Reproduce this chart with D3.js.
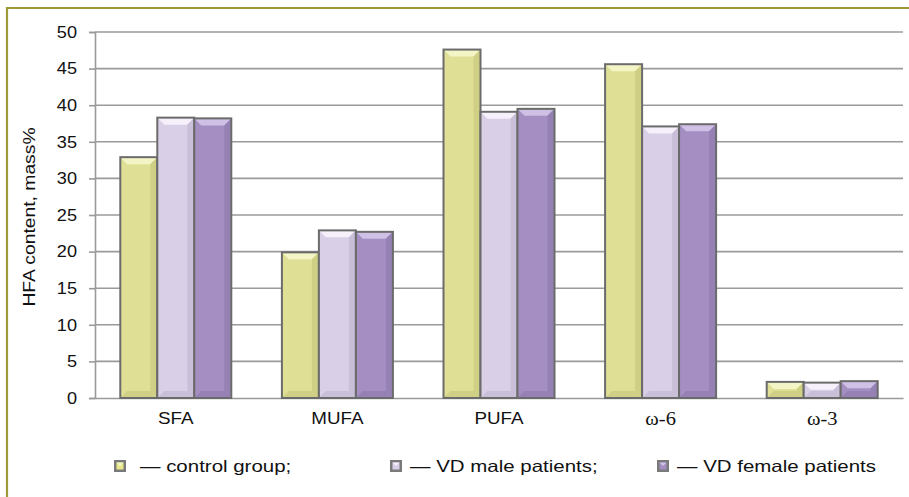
<!DOCTYPE html>
<html><head><meta charset="utf-8">
<script src="https://cdn.jsdelivr.net/npm/d3@7"></script>
<style>body{margin:0;background:#fff}svg{display:block}</style>
</head><body><svg id="c" width="909" height="497"></svg>
<script>
const categories = ["SFA", "MUFA", "PUFA", "ω-6", "ω-3"];
const seriesNames = ["— control group;", "— VD male patients;", "— VD female patients"];
const control = [32.9, 19.9, 47.6, 45.6, 2.2];
const vdMale = [38.3, 22.9, 39.1, 37.1, 2.1];
const vdFemale = [38.2, 22.7, 39.5, 37.4, 2.3];
const yTicks = [0, 5, 10, 15, 20, 25, 30, 35, 40, 45, 50];
const colors = ["#dfe096", "#d9cfe6", "#a58fc2"];
const lightColors = ["#f4f5c6", "#f6f0fb", "#cfc0e6"];
const darkColors = ["#cfd086", "#c9bfd8", "#9581b3"];
const series = [control, vdMale, vdFemale];

const svg = d3.select("#c");
const font = "'Liberation Sans', Arial, sans-serif";
const serif = "'Liberation Serif', 'Times New Roman', serif";
function stretch(sel, k) {
  sel.each(function() {
    const w = this.getComputedTextLength();
    d3.select(this).attr("textLength", w * k).attr("lengthAdjust", "spacingAndGlyphs");
  });
}
// frame
svg.append("path").attr("d", "M7,497 L7,8 L909,8").attr("fill", "none")
  .attr("stroke", "#9e9a3a").attr("stroke-width", 2.2);

const pLeft = 95, pRight = 903, pTop = 32, pBottom = 398;
const x = d3.scaleBand().domain(categories).range([pLeft, pRight]);
const xs = d3.scaleBand().domain([0, 1, 2]).range([0, 111]);
const y = d3.scaleLinear().domain([0, 50]).range([pBottom, pTop]);

// gridlines
svg.append("g").selectAll("line").data(yTicks.filter(d => d > 0)).join("line")
  .attr("x1", pLeft).attr("x2", pRight).attr("y1", d => y(d)).attr("y2", d => y(d))
  .attr("stroke", "#9a9a9a").attr("stroke-width", 1.6);

// y axis
const ya = d3.axisLeft(y).tickValues(yTicks).tickSize(6).tickPadding(12);
const yg = svg.append("g").attr("transform", `translate(${pLeft},0)`).call(ya);
yg.select(".domain").attr("stroke", "#9a9a9a").attr("stroke-width", 1.6);
yg.selectAll(".tick line").attr("stroke", "#9a9a9a").attr("stroke-width", 1.6);
yg.selectAll(".tick text").attr("font-family", font).attr("font-size", 16.5).attr("fill", "#111");
stretch(yg.selectAll(".tick text"), 1.1);

// x axis
const xa = d3.axisBottom(x).tickSize(0).tickPadding(14);
const xg = svg.append("g").attr("transform", `translate(0,${pBottom})`).call(xa);
xg.select(".domain").attr("stroke", "#9a9a9a").attr("stroke-width", 1.6);
xg.selectAll(".tick text").attr("font-family", font).attr("font-size", 16.5).attr("fill", "#111")
  .each(function(d) {
    const t = d3.select(this);
    if (d.startsWith("ω")) {
      t.attr("font-family", serif).attr("font-size", 18);
    }
  });
stretch(xg.selectAll(".tick text"), 1.14);

// y label
const yl = svg.append("text").attr("transform", `translate(34.5,${(pTop + pBottom) / 2 + 2}) rotate(-90)`)
  .attr("text-anchor", "middle").attr("font-family", font).attr("font-size", 16.5).attr("fill", "#111")
  .text("HFA content, mass%");
stretch(yl, 1.17);

function bevelBar(g, bx, by, bw, bh, si) {
  const b = Math.min(7, bh / 2);
  g.append("rect").attr("x", bx).attr("y", by).attr("width", bw).attr("height", bh).attr("fill", colors[si]);
  g.append("path").attr("d", `M${bx},${by}L${bx + bw},${by}L${bx + bw - b},${by + b}L${bx + b},${by + b}Z`).attr("fill", lightColors[si]);
  g.append("path").attr("d", `M${bx + bw},${by}L${bx + bw - b},${by + b}L${bx + bw - b},${by + bh - b}L${bx + bw},${by + bh}Z`).attr("fill", darkColors[si]);
  g.append("path").attr("d", `M${bx},${by + bh}L${bx + b},${by + bh - b}L${bx + bw - b},${by + bh - b}L${bx + bw},${by + bh}Z`).attr("fill", darkColors[si]);
  g.append("rect").attr("x", bx).attr("y", by).attr("width", bw).attr("height", bh)
    .attr("fill", "none").attr("stroke", "#6b6b6b").attr("stroke-width", 2);
}

const bars = svg.append("g");
categories.forEach((c, ci) => {
  const gx = x(c) + (x.bandwidth() - 111) / 2;
  series.forEach((s, si) => {
    const v = s[ci];
    bevelBar(bars, gx + xs(si), y(v), xs.bandwidth(), y(0) - y(v), si);
  });
});

// legend
const legX = [114, 390, 657];
const legG = svg.append("g");
seriesNames.forEach((n, i) => {
  const lx = legX[i], ly = 460;
  legG.append("rect").attr("x", lx).attr("y", ly).attr("width", 12).attr("height", 12).attr("fill", "#7a7a7a");
  legG.append("rect").attr("x", lx + 2.5).attr("y", ly + 2.5).attr("width", 7).attr("height", 7).attr("fill", i === 0 ? "#e8e98a" : colors[i]);
  legG.append("path").attr("d", `M${lx + 2.5},${ly + 2.5}L${lx + 9.5},${ly + 2.5}L${lx + 6},${ly + 6}Z`).attr("fill", lightColors[i]);
  const t = legG.append("text").attr("x", lx + (i === 0 ? 26 : 20)).attr("y", ly + 12)
    .attr("font-family", font).attr("font-size", 16.5).attr("fill", "#111").text(n);
  stretch(t, 1.24);
});
</script></body></html>
